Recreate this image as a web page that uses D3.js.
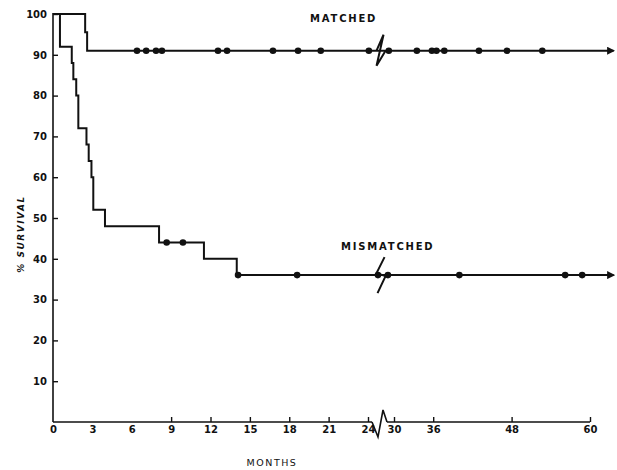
<!DOCTYPE html>
<html>
<head>
<meta charset="utf-8">
<script src="https://cdn.jsdelivr.net/npm/d3@7/dist/d3.min.js"></script>
<style>
  html, body { margin: 0; padding: 0; background: #fff; }
  svg { display: block; }
  text { font-family: "DejaVu Sans", sans-serif; fill: #111; }
</style>
</head>
<body>
<svg id="chart" width="617" height="470"></svg>
<script>
// ---- data ----
const seriesNames = ["MATCHED", "MISMATCHED"];
// step points [month, % survival]
const matchedSteps = [[0, 100], [2.45, 95.5], [2.6, 91]];
const mismatchedSteps = [[0, 100], [0.53, 92], [1.43, 88], [1.55, 84], [1.77, 80], [1.93, 72],
  [2.55, 68], [2.72, 64], [2.93, 60], [3.07, 52], [3.96, 48], [8.08, 44], [11.5, 40], [14.0, 36]];
// censored observations (months)
const matchedCensored = [6.4, 7.1, 7.85, 8.3, 12.57, 13.26, 16.76, 18.67, 20.4, 24.2, 28.8,
  33.5, 35.8, 36.5, 37.7, 43.0, 47.3, 52.7];
const mismatchedCensored = [8.66, 9.9, 14.1, 18.6, 26.3, 28.6, 40.0, 56.2, 58.8];
const xTicks = [0, 3, 6, 9, 12, 15, 18, 21, 24, 30, 36, 48, 60];
const yTicks = [10, 20, 30, 40, 50, 60, 70, 80, 90, 100];
const followEnd = 63.6;

// ---- layout ----
const svg = d3.select("#chart");
const x = d3.scaleLinear().domain([0, 24, 30, 60]).range([53, 368, 394, 590]);
const y = d3.scaleLinear().domain([0, 100]).range([422, 14]);
const ink = "#111";

svg.append("defs").append("marker")
  .attr("id", "arrow").attr("viewBox", "0 0 10 10")
  .attr("refX", 8).attr("refY", 5)
  .attr("markerWidth", 4).attr("markerHeight", 4)
  .attr("markerUnits", "strokeWidth")
  .attr("orient", "auto")
  .append("path").attr("d", "M0,0 L10,5 L0,10 Z").attr("fill", ink);

// ---- axes ----
const xAxis = svg.append("g").attr("transform", `translate(0,${y(0)})`)
  .call(d3.axisBottom(x).tickValues(xTicks).tickFormat(d3.format("d"))
    .tickSize(-5).tickSizeOuter(0).tickPadding(4));
xAxis.select(".domain").remove();
xAxis.selectAll(".tick line").attr("stroke", ink).attr("stroke-width", 1.4)
  .attr("opacity", d => d <= 6 ? 0 : 1);
xAxis.selectAll(".tick text").attr("font-size", 10).attr("font-weight", "bold").attr("fill", ink);

const yAxis = svg.append("g").attr("transform", `translate(${x(0)},0)`)
  .call(d3.axisLeft(y).tickValues(yTicks).tickSize(-5).tickSizeOuter(0).tickPadding(6));
yAxis.select(".domain").remove();
yAxis.selectAll(".tick line").attr("stroke", ink).attr("stroke-width", 1.4);
yAxis.selectAll(".tick text").attr("font-size", 10).attr("font-weight", "bold").attr("fill", ink);

// axis lines (with break on x)
svg.append("line").attr("x1", x(0)).attr("x2", x(0)).attr("y1", y(0)).attr("y2", y(100) - 1)
  .attr("stroke", ink).attr("stroke-width", 1.6);
const xb0 = x(24), xb1 = x(30), ay = y(0);
svg.append("line").attr("x1", x(0)).attr("x2", xb0 + 4).attr("y1", ay).attr("y2", ay)
  .attr("stroke", ink).attr("stroke-width", 1.6);
svg.append("line").attr("x1", xb1 - 7).attr("x2", x(60)).attr("y1", ay).attr("y2", ay)
  .attr("stroke", ink).attr("stroke-width", 1.6);
svg.append("polyline")
  .attr("points", [[xb0 + 4, ay], [xb0 + 10, ay + 15], [xb0 + 15, ay - 12], [xb1 - 7, ay]].map(p => p.join(",")).join(" "))
  .attr("fill", "none").attr("stroke", ink).attr("stroke-width", 1.6).attr("stroke-linejoin", "miter");

// ---- curves ----
const line = d3.line().x(d => x(d[0])).y(d => y(d[1])).curve(d3.curveStepAfter);
function drawSeries(steps, censored) {
  const last = steps[steps.length - 1][1];
  const pts = steps.concat([[followEnd, last]]);
  svg.append("path").datum(pts).attr("d", line)
    .attr("fill", "none").attr("stroke", ink).attr("stroke-width", 2)
    .attr("marker-end", "url(#arrow)");
  const levelAt = t => { let v = 100; steps.forEach(s => { if (s[0] <= t) v = s[1]; }); return v; };
  svg.append("g").selectAll("circle").data(censored).join("circle")
    .attr("cx", d => x(d)).attr("cy", d => y(levelAt(d))).attr("r", 3.3).attr("fill", ink);
  return last;
}
const mLast = drawSeries(matchedSteps, matchedCensored);
const mmLast = drawSeries(mismatchedSteps, mismatchedCensored);

// break marks on the curves
function zig(level, pts) {
  const cx = x(26.2), cy = y(level);
  svg.append("polyline")
    .attr("points", pts.map(p => [cx + p[0], cy + p[1]].join(",")).join(" "))
    .attr("fill", "none").attr("stroke", ink).attr("stroke-width", 2).attr("stroke-linejoin", "miter");
}
zig(mLast, [[-1, 0], [6, -16], [-1, 15], [8, 0]]);
zig(mmLast, [[7, -18], [-1, -2], [8, 1], [0, 18]]);

// ---- labels ----
svg.append("text").attr("x", 310).attr("y", 22).attr("font-size", 10).attr("font-weight", "bold")
  .attr("letter-spacing", 1.8).text(seriesNames[0]);
svg.append("text").attr("x", 341).attr("y", 250).attr("font-size", 10).attr("font-weight", "bold")
  .attr("letter-spacing", 1.8).text(seriesNames[1]);
svg.append("text").attr("transform", "translate(24,234) rotate(-90)").attr("text-anchor", "middle")
  .attr("font-size", 9).attr("font-weight", "bold").attr("font-style", "italic")
  .attr("letter-spacing", 1.5).text("% SURVIVAL");
svg.append("text").attr("x", 272).attr("y", 466).attr("text-anchor", "middle")
  .attr("font-size", 9.5).attr("letter-spacing", 1.5).text("MONTHS");
</script>
</body>
</html>
